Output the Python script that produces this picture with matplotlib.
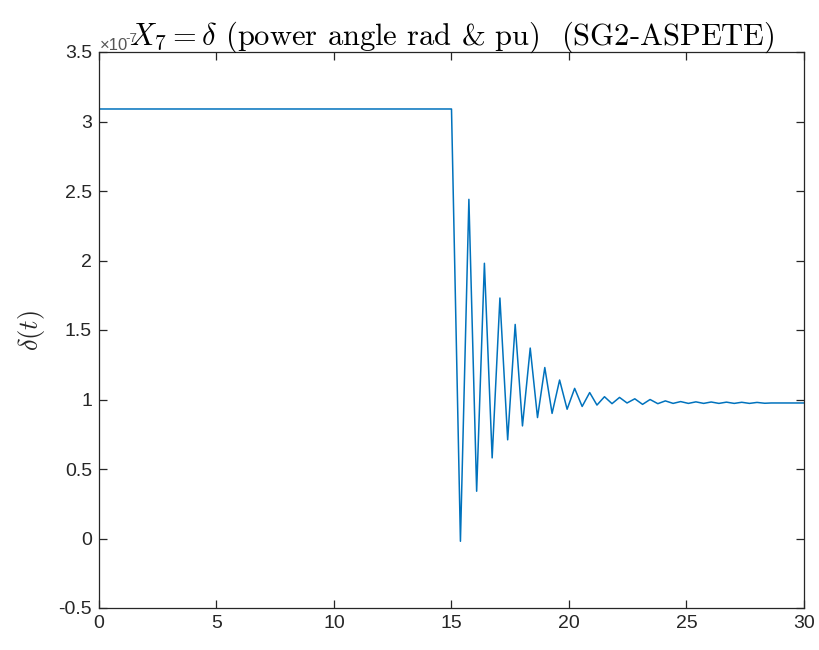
import matplotlib
matplotlib.use("Agg")
import matplotlib.pyplot as plt

# ---- data ----
t = [0.0, 15.0, 15.38, 15.74, 16.07, 16.40, 16.73, 17.06, 17.39, 17.71,
     18.02, 18.35, 18.66, 18.97, 19.28, 19.60, 19.92, 20.24, 20.56, 20.88,
     21.19, 21.51, 21.83, 22.15, 22.47, 22.80, 23.13, 23.45, 23.78, 24.10,
     24.43, 24.75, 25.08, 25.40, 25.73, 26.05, 26.38, 26.70, 27.03, 27.35,
     27.68, 28.00, 28.33, 28.60, 30.0]
delta = [3.09, 3.09, -0.02, 2.44, 0.34, 1.98, 0.58, 1.73, 0.71, 1.54,
         0.81, 1.37, 0.87, 1.23, 0.90, 1.14, 0.93, 1.08, 0.95, 1.05,
         0.96, 1.02, 0.97, 1.015, 0.975, 1.005, 0.965, 1.00, 0.97, 0.99,
         0.972, 0.985, 0.972, 0.983, 0.972, 0.982, 0.972, 0.981, 0.972, 0.980,
         0.972, 0.979, 0.973, 0.975, 0.975]
scale_exp = -7
xticks = [0, 5, 10, 15, 20, 25, 30]
yticks = [-0.5, 0, 0.5, 1, 1.5, 2, 2.5, 3, 3.5]
ytick_labels = ["-0.5", "0", "0.5", "1", "1.5", "2", "2.5", "3", "3.5"]
title = r"$X_7 = \delta$ (power angle rad & pu)  (SG2-ASPETE)"
ylabel = r"$\delta(t)$"

plt.rcParams["mathtext.fontset"] = "cm"
plt.rcParams["axes.unicode_minus"] = False

fig = plt.figure(figsize=(8.2, 6.5), dpi=100)
ax = fig.add_axes([99 / 820, 1 - 608 / 650, (804 - 99) / 820, (608 - 52) / 650])

ax.plot(t, delta, color="#0072BD", lw=1.1)

ax.set_xlim(0, 30)
ax.set_ylim(-0.5, 3.5)
ax.set_xticks(xticks)
ax.set_xticklabels([str(v) for v in xticks])
ax.set_yticks(yticks)
ax.set_yticklabels(ytick_labels)

dark = "#262626"
for s in ax.spines.values():
    s.set_color(dark)
    s.set_linewidth(0.9)
ax.tick_params(direction="in", length=6, width=0.9, colors=dark,
               top=True, right=True, labelsize=14, pad=5)
for lab in ax.get_xticklabels() + ax.get_yticklabels():
    lab.set_family("Liberation Sans")

# exponent label
fig.text(100 / 820, 1 - 50 / 650, "×10", fontsize=12, color="#555555",
         family="Liberation Sans", ha="left", va="baseline")
fig.text(125 / 820, 1 - 42 / 650, str(scale_exp), fontsize=9.5, color="#555555",
         family="Liberation Sans", ha="left", va="baseline")

ax.set_title(title, fontsize=22, family="cmr10", color="black", pad=5)
ax.set_ylabel(ylabel, fontsize=19, color=dark, labelpad=8)

fig.savefig("out.png", dpi=100)
